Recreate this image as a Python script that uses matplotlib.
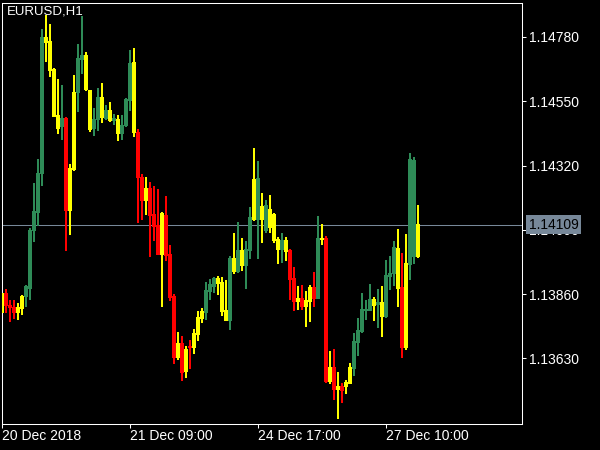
"""
EURUSD H1 캔들 차트 (MetaTrader 스타일)
"""

import numpy as np
import matplotlib.pyplot as plt
from matplotlib.transforms import blended_transform_factory

plt.rcParams['font.family'] = ['Liberation Sans', 'DejaVu Sans']

# ━━━━━━━━━━━━━━━━━━━━━━━━━━━━━━━━━━━━━━━━━━━━━━━━
# 데이터
# ━━━━━━━━━━━━━━━━━━━━━━━━━━━━━━━━━━━━━━━━━━━━━━━━

open_ = [
    1.13793, 1.13863, 1.13820, 1.13813, 1.13794, 1.13810, 1.13850, 1.13882, 1.14086, 1.14151,
    1.14290, 1.14779, 1.14764, 1.14664, 1.14500, 1.14458, 1.14489, 1.14158, 1.14306, 1.14580,
    1.14700, 1.14714, 1.14587, 1.14454, 1.14484, 1.14563, 1.14489, 1.14518, 1.14482, 1.14486,
    1.14436, 1.14464, 1.14551, 1.14689, 1.14439, 1.14278, 1.14196, 1.14239, 1.14146, 1.14107,
    1.14003, 1.14142, 1.14003, 1.13853, 1.13635, 1.13685, 1.13585, 1.13674, 1.13670, 1.13717,
    1.13774, 1.13795, 1.13871, 1.13888, 1.13917, 1.13903, 1.13803, 1.13767, 1.13989, 1.13942,
    1.14017, 1.13964, 1.14017, 1.14128, 1.14275, 1.14128, 1.14178, 1.14099, 1.14146, 1.14056,
    1.14021, 1.14053, 1.14017, 1.13917, 1.13835, 1.13846, 1.13817, 1.13835, 1.13885, 1.13846,
    1.14060, 1.14060, 1.13549, 1.13599, 1.13520, 1.13531, 1.13531, 1.13542, 1.13595, 1.13688,
    1.13728, 1.13803, 1.13803, 1.13841, 1.13824, 1.13831, 1.13781, 1.13924, 1.13935, 1.14024,
    1.13885, 1.13670, 1.13967, 1.14339, 1.13996,
]
high = [
    1.13867, 1.13878, 1.13838, 1.13838, 1.13828, 1.13856, 1.13890, 1.14095, 1.14254, 1.14343,
    1.14806, 1.14856, 1.14825, 1.14667, 1.14629, 1.14607, 1.14490, 1.14325, 1.14643, 1.14754,
    1.14851, 1.14723, 1.14589, 1.14525, 1.14595, 1.14614, 1.14536, 1.14546, 1.14503, 1.14500,
    1.14500, 1.14561, 1.14732, 1.14738, 1.14449, 1.14289, 1.14278, 1.14260, 1.14246, 1.14235,
    1.14153, 1.14210, 1.14035, 1.13860, 1.13724, 1.13710, 1.13674, 1.13695, 1.13735, 1.13799,
    1.13810, 1.13903, 1.13913, 1.13918, 1.13924, 1.13921, 1.13910, 1.13996, 1.14078, 1.14117,
    1.14060, 1.14049, 1.14171, 1.14382, 1.14335, 1.14221, 1.14196, 1.14214, 1.14149, 1.14064,
    1.14078, 1.14064, 1.14021, 1.13956, 1.13888, 1.13892, 1.13871, 1.13892, 1.13939, 1.14139,
    1.14110, 1.14067, 1.13656, 1.13663, 1.13581, 1.13542, 1.13552, 1.13613, 1.13720, 1.13774,
    1.13863, 1.13838, 1.13896, 1.13849, 1.13878, 1.13888, 1.13981, 1.13996, 1.14049, 1.14092,
    1.14006, 1.14074, 1.14364, 1.14350, 1.14178,
]
low = [
    1.13790, 1.13795, 1.13764, 1.13774, 1.13770, 1.13788, 1.13817, 1.13841, 1.14047, 1.14104,
    1.14247, 1.14693, 1.14637, 1.14494, 1.14434, 1.14414, 1.14015, 1.14075, 1.14303, 1.14512,
    1.14649, 1.14587, 1.14440, 1.14428, 1.14446, 1.14475, 1.14483, 1.14476, 1.14467, 1.14410,
    1.14414, 1.14460, 1.14518, 1.14422, 1.14115, 1.14128, 1.14146, 1.13996, 1.14053, 1.14002,
    1.13817, 1.13981, 1.13838, 1.13613, 1.13628, 1.13552, 1.13563, 1.13595, 1.13649, 1.13695,
    1.13760, 1.13770, 1.13841, 1.13867, 1.13860, 1.13785, 1.13766, 1.13735, 1.13935, 1.13939,
    1.13946, 1.13881, 1.13989, 1.14124, 1.13989, 1.14046, 1.14082, 1.14082, 1.14046, 1.13971,
    1.13974, 1.13981, 1.13841, 1.13803, 1.13806, 1.13806, 1.13745, 1.13763, 1.13817, 1.13845,
    1.14039, 1.13545, 1.13542, 1.13484, 1.13416, 1.13474, 1.13506, 1.13541, 1.13570, 1.13642,
    1.13724, 1.13770, 1.13802, 1.13767, 1.13742, 1.13710, 1.13778, 1.13878, 1.13892, 1.13817,
    1.13635, 1.13663, 1.13913, 1.13971, 1.13992,
]
close = [
    1.13863, 1.13818, 1.13812, 1.13794, 1.13813, 1.13853, 1.13886, 1.14089, 1.14157, 1.14291,
    1.14779, 1.14761, 1.14661, 1.14496, 1.14454, 1.14489, 1.14158, 1.14310, 1.14582, 1.14704,
    1.14714, 1.14593, 1.14450, 1.14486, 1.14564, 1.14493, 1.14518, 1.14482, 1.14489, 1.14436,
    1.14463, 1.14557, 1.14686, 1.14437, 1.14276, 1.14196, 1.14239, 1.14142, 1.14103, 1.14003,
    1.14149, 1.13999, 1.13849, 1.13635, 1.13685, 1.13581, 1.13663, 1.13669, 1.13720, 1.13778,
    1.13799, 1.13874, 1.13896, 1.13917, 1.13899, 1.13799, 1.13767, 1.13989, 1.13942, 1.14017,
    1.13964, 1.14021, 1.14135, 1.14271, 1.14128, 1.14174, 1.14089, 1.14164, 1.14053, 1.14021,
    1.14053, 1.14014, 1.13913, 1.13835, 1.13846, 1.13817, 1.13838, 1.13885, 1.13846, 1.14060,
    1.14056, 1.13549, 1.13599, 1.13520, 1.13531, 1.13517, 1.13545, 1.13599, 1.13692, 1.13731,
    1.13806, 1.13806, 1.13841, 1.13820, 1.13831, 1.13781, 1.13928, 1.13935, 1.14028, 1.13881,
    1.13670, 1.13971, 1.14343, 1.13996, 1.14109,
]
# 캔들 색상 코드: g=초록, y=노랑, r=빨강
color_codes = (
    'yrrryygggg' 'gyyyygryyg' 'gyyggygygy' 'gggyrryrrr'
    'yrrryryryy' 'ygggyyygyg' 'yggygygyyy' 'gyrryryyrg'
    'yryryryygg' 'gggygygggy' 'ryggyg'
)[:105]

tick_bars = [0, 32, 64, 96]
tick_labels = ['20 Dec 2018', '21 Dec 09:00', '24 Dec 17:00', '27 Dec 10:00']
price_ticks = [1.13630, 1.13860, 1.14090, 1.14320, 1.14550, 1.14780]
last_price = 1.14109
symbol = 'EURUSD,H1'

palette = {'g': '#2e8b57', 'y': '#ffff00', 'r': '#ff0000'}

# ━━━━━━━━━━━━━━━━━━━━━━━━━━━━━━━━━━━━━━━━━━━━━━━━
# 그리기
# ━━━━━━━━━━━━━━━━━━━━━━━━━━━━━━━━━━━━━━━━━━━━━━━━

o = np.array(open_)
h = np.array(high)
l = np.array(low)
c = np.array(close)
x = np.arange(len(o))
cols = [palette[k] for k in color_codes]

fig = plt.figure(figsize=(6, 4.5), dpi=100, facecolor='black')
# 캔들이 정확히 3px/1px 폭으로 찍히도록 축 위치를 픽셀 경계에 맞춤
ax = fig.add_axes([2.0 / 600, 26.5 / 450, 520 / 600, 421 / 450], facecolor='black')

# 심지 1px, 몸통 3px (도지도 최소 1픽셀 표시)
wicks = ax.bar(x, h - l, bottom=l, width=0.25, color=cols,
               linewidth=0, antialiased=False, zorder=2)
body_bottom = np.minimum(o, c)
body_height = np.maximum(np.abs(c - o), 0.00003)
bodies = ax.bar(x, body_height, bottom=body_bottom, width=0.75, color=cols,
                linewidth=0, antialiased=False, zorder=3)
for b in list(wicks) + list(bodies):
    b.set_snap(False)

# 현재가 라인
ax.axhline(last_price, color='#778899', linewidth=0.75, zorder=1)

ax.set_xlim(0, 130)
ax.set_ylim(1.133976, 1.149028)

# 축 스타일
for s in ax.spines.values():
    s.set_color('white')
    s.set_linewidth(0.75)

ax.yaxis.tick_right()
ax.set_yticks(price_ticks)
ax.set_yticklabels([f'{p:.5f}' for p in price_ticks])
ax.set_xticks(tick_bars)
ax.set_xticklabels(tick_labels, ha='left')
ax.tick_params(axis='both', colors='white', labelcolor='white', labelsize=10,
               length=3, width=0.75, direction='out')
ax.tick_params(axis='y', pad=2)
ax.tick_params(axis='x', pad=1)

# 현재가 박스
ax.annotate(f'{last_price:.5f}', xy=(1, last_price),
            xycoords=blended_transform_factory(ax.transAxes, ax.transData),
            xytext=(5, 0), textcoords='offset points', ha='left', va='center',
            fontsize=10, color='black', zorder=10, annotation_clip=False,
            bbox=dict(boxstyle='square,pad=0.2', fc='#778899', ec='none'))

# 심볼 표시
ax.text(0.009, 0.993, symbol, transform=ax.transAxes, ha='left', va='top',
        color='white', fontsize=9.5)

plt.savefig('out.png', dpi=100, facecolor='black')
plt.close()
